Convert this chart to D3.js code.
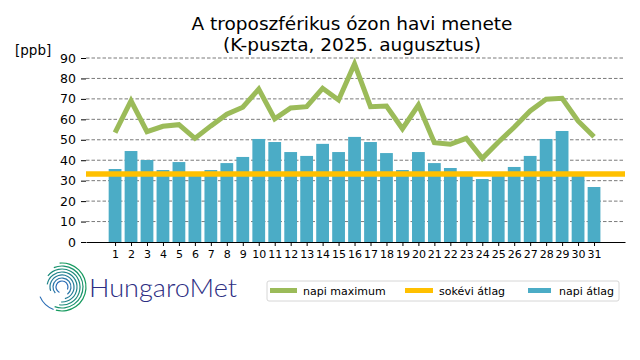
<!DOCTYPE html>
<html>
<head>
<meta charset="utf-8">
<script src="https://cdn.jsdelivr.net/npm/d3@7"></script>
<style>
  body { margin: 0; background: #fff; }
  svg { font-family: "DejaVu Sans", sans-serif; }
</style>
</head>
<body>
<svg id="chart" width="640" height="360"></svg>
<script>
// daily values, August 2025, K-puszta
const days = d3.range(1, 32);
const dailyMean = [35.7, 44.5, 40.1, 35.2, 39.1, 32.5, 35.2, 38.6, 41.6, 50.4,
  48.9, 44.0, 42.1, 48.0, 44.0, 51.4, 48.9, 43.5, 35.2, 44.0,
  38.6, 36.2, 34.3, 30.8, 33.0, 36.7, 42.1, 50.4, 54.3, 33.0, 26.9];
const dailyMax = [53.5, 69.1, 54.0, 56.6, 57.4, 50.7, 56.8, 62.5, 65.9, 74.8,
  60.2, 65.6, 66.2, 75.2, 69.5, 87.1, 66.2, 66.5, 55.4, 67.0,
  48.6, 47.8, 50.7, 40.9, 48.8, 56.1, 64.1, 69.8, 70.3, 59.2, 51.5];
const longTermMean = 33.3;
const yTicks = [0, 10, 20, 30, 40, 50, 60, 70, 80, 90];
const legendItems = [
  { label: "napi maximum", color: "#9bbb59" },
  { label: "sokévi átlag", color: "#ffc000" },
  { label: "napi átlag", color: "#4bacc6" }
];

const GREEN = "#9bbb59";
const ORANGE = "#ffc000";
const BLUE = "#4bacc6";

const svg = d3.select("#chart");

const LEFT = 86, RIGHT = 625;
const x = d3.scaleLinear().domain([-0.82, 32.94]).range([LEFT, RIGHT]);
const y = d3.scaleLinear().domain([0, 90]).range([242, 58]);

// title
const title = svg.append("text")
  .attr("text-anchor", "middle")
  .attr("font-size", 18.5)
  .attr("fill", "#000");
title.append("tspan").attr("x", 352).attr("y", 30).text("A troposzférikus ózon havi menete");
title.append("tspan").attr("x", 352).attr("y", 51).text("(K-puszta, 2025. augusztus)");

svg.append("text")
  .attr("x", 15).attr("y", 55)
  .attr("font-size", 13.5)
  .text("[ppb]");

// grid
svg.append("g")
  .selectAll("line")
  .data(yTicks.filter(d => d > 0))
  .join("line")
  .attr("x1", LEFT).attr("x2", RIGHT)
  .attr("y1", d => y(d)).attr("y2", d => y(d))
  .attr("stroke", "#7a7a7a")
  .attr("stroke-width", 1)
  .attr("stroke-dasharray", "3.5,2");

// y axis (ticks + labels, no spine)
const yAxis = svg.append("g")
  .attr("transform", `translate(${LEFT},0)`)
  .call(d3.axisLeft(y).tickValues(yTicks).tickSize(5).tickPadding(5));
yAxis.select(".domain").remove();
yAxis.selectAll("text").attr("font-size", 12.5).attr("font-family", "DejaVu Sans");

// bars
const bw = x(0.4) - x(-0.4);
svg.append("g")
  .selectAll("rect")
  .data(days)
  .join("rect")
  .attr("x", d => x(d) - bw / 2)
  .attr("width", bw)
  .attr("y", (d, i) => y(dailyMean[i]))
  .attr("height", (d, i) => y(0) - y(dailyMean[i]))
  .attr("fill", BLUE);

// long-term mean
svg.append("line")
  .attr("x1", LEFT).attr("x2", RIGHT)
  .attr("y1", y(longTermMean)).attr("y2", y(longTermMean))
  .attr("stroke", ORANGE)
  .attr("stroke-width", 5.5);

// daily max
svg.append("path")
  .datum(dailyMax)
  .attr("fill", "none")
  .attr("stroke", GREEN)
  .attr("stroke-width", 5)
  .attr("stroke-linejoin", "miter")
  .attr("d", d3.line().x((d, i) => x(days[i])).y(d => y(d)));

// x axis
const xAxis = svg.append("g")
  .attr("transform", `translate(0,${y(0)})`)
  .call(d3.axisBottom(x).tickValues(days).tickFormat(d3.format("d")).tickSize(4).tickPadding(4).tickSizeOuter(0));
xAxis.select(".domain").attr("stroke-width", 1.2);
xAxis.selectAll("text").attr("font-size", 11).attr("font-family", "DejaVu Sans");

// legend
const legend = svg.append("g");
legend.append("rect")
  .attr("x", 267).attr("y", 281).attr("width", 352).attr("height", 20)
  .attr("rx", 2)
  .attr("fill", "#fff").attr("stroke", "#d6d6d6");
const legendX = [270, 405, 528];
const swatchW = [27, 28, 23];
const textX = [303, 439, 559];
legendItems.forEach((it, i) => {
  legend.append("rect")
    .attr("x", legendX[i]).attr("y", 288)
    .attr("width", swatchW[i]).attr("height", 5)
    .attr("fill", it.color);
  legend.append("text")
    .attr("x", textX[i]).attr("y", 295)
    .attr("font-size", 11)
    .text(it.label);
});

// logo
const logo = svg.append("g").attr("transform", "translate(62,287)");
const logoColor = d3.scaleLinear().domain([0, 1]).range(["#159a5e", "#2a6db5"]);
const rings = [
  { r: 24, a0: -0.1, a1: 3.4 },
  { r: 21, a0: -0.4, a1: 3.5 },
  { r: 18, a0: -0.9, a1: 3.3 },
  { r: 15, a0: -1.4, a1: 3.2 },
  { r: 12, a0: -1.9, a1: 2.9 },
  { r: 9, a0: -2.3, a1: 2.5 },
  { r: 6, a0: -2.7, a1: 2.0 }
];
const arcGen = d3.arc();
rings.forEach((rg, i) => {
  logo.append("path")
    .attr("d", arcGen({ innerRadius: rg.r - 0.6, outerRadius: rg.r + 0.6, startAngle: rg.a0, endAngle: rg.a1 }))
    .attr("fill", logoColor(i / (rings.length - 1)));
});
logo.append("path")
  .attr("d", arcGen({ innerRadius: 23.4, outerRadius: 24.6, startAngle: 3.5, endAngle: 4.3 }))
  .attr("fill", "#2a6db5");

svg.append("text")
  .attr("x", 89).attr("y", 297)
  .attr("font-family", "Lato, sans-serif")
  .attr("font-weight", 300)
  .attr("font-size", 26)
  .attr("textLength", 148)
  .attr("lengthAdjust", "spacingAndGlyphs")
  .attr("fill", "#2d2e83")
  .text("HungaroMet");
</script>
</body>
</html>
